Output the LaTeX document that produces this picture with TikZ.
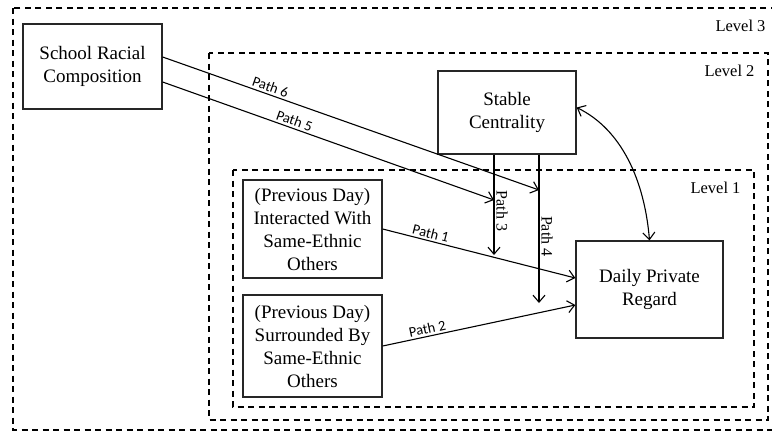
\documentclass[tikz,border=0pt]{standalone}
\usepackage{fontspec}
\setmainfont{Liberation Serif}
\newfontfamily\pathfont{Carlito}
\usetikzlibrary{arrows.meta,calc,positioning}

\tikzset{
  box/.style={draw=black!85, line width=1.3pt, align=center, inner sep=2pt,
    font=\fontsize{19}{23}\selectfont},
  levelbox/.style={draw, line width=1.3pt, dash pattern=on 6pt off 4.5pt},
  levlab/.style={anchor=east, font=\fontsize{16.5}{18}\selectfont},
  arr/.style={line width=1.1pt, >={Straight Barb[length=7pt,width=12pt]}},
  pathlab/.style={inner sep=2pt, font=\pathfont\fontsize{14.5}{16}\selectfont},
  pathlabrm/.style={inner sep=2pt, font=\fontsize{16}{18}\selectfont},
}

\begin{document}
\begin{tikzpicture}[x=1pt,y=-1pt]
\useasboundingbox (0,0) rectangle (772,432);
% nested levels
\draw[levelbox] (13,8) rectangle (776,430);
\draw[levelbox] (209,53) rectangle (768,420);
\draw[levelbox] (233,170) rectangle (754,407);
\node[levlab] (lev3) at (769,26) {Level 3};
\node[levlab] (lev2) at (758,71) {Level 2};
\node[levlab] (lev1) at (744,188) {Level 1};

% variables
\node[box, minimum width=139pt, minimum height=85pt] (school) at (92.5,66.5) {School Racial\\Composition};
\node[box, minimum width=138pt, minimum height=83pt] (stable) at (507,112.5) {Stable\\Centrality};
\node[box, minimum width=139pt, minimum height=98pt] (interacted) at (312.5,229) {(Previous Day)\\Interacted With\\Same-Ethnic\\Others};
\node[box, minimum width=139pt, minimum height=102pt] (surrounded) at (312.5,346) {(Previous Day)\\Surrounded By\\Same-Ethnic\\Others};
\node[box, minimum width=147pt, minimum height=97pt] (daily) at (649.5,289.5) {Daily Private\\Regard};

% end points of the paths
\coordinate (s6) at ($(school.east)+(0,-9.5)$);
\coordinate (s5) at ($(school.east)+(0,15.5)$);
\coordinate (p3top) at ($(stable.south)+(-13,0)$);
\coordinate (p4top) at ($(stable.south)+(32,0)$);
\coordinate (p3tip) at (494,255);
\coordinate (p4tip) at (539,303);
\coordinate (m3) at (494,200);
\coordinate (m4) at (539,190);
\coordinate (d1) at ($(daily.west)+(0,-11.5)$);
\coordinate (d2) at ($(daily.west)+(0,15.5)$);
\coordinate (c1) at ($(stable.east)+(0,-5)$);

% paths
\draw[arr,->] (interacted.east) -- node[pos=0.24, above, sloped, pathlab] (lab1) {Path 1} (d1);
\draw[arr,->] (surrounded.east) -- node[pos=0.24, above, sloped, pathlab] (lab2) {Path 2} (d2);
\draw[arr,->] (p3top) -- node[pos=0.56, above, sloped, pathlabrm] (lab3) {Path 3} (p3tip);
\draw[arr,->] (p4top) -- node[pos=0.55, above, sloped, pathlabrm] (lab4) {Path 4} (p4tip);
\draw[arr,->] (s5) -- node[pos=0.39, above, sloped, pathlab] (lab5) {Path 5} (m3);
\draw[arr,->] (s6) -- node[pos=0.28, above, sloped, pathlab] (lab6) {Path 6} (m4);
\draw[arr,<->] (c1) .. controls ($(c1)+(45,22)$) and ($(daily.north)+(-5,-60)$) .. (daily.north);
\end{tikzpicture}
\end{document}
